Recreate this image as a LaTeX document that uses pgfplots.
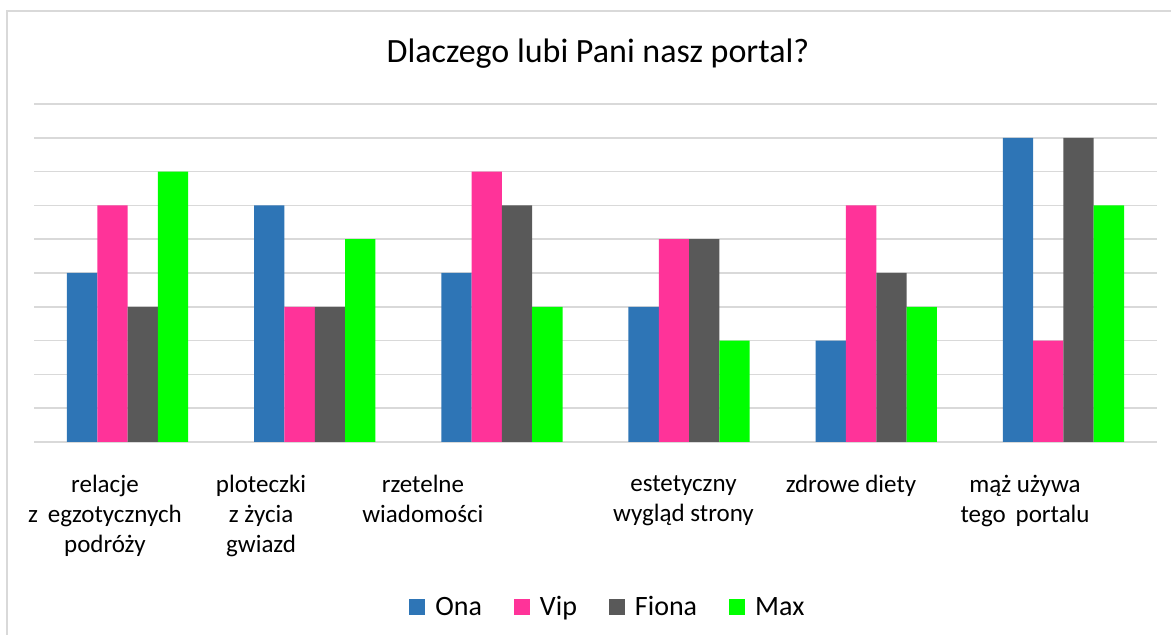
\documentclass[border=0pt]{standalone}
\usepackage{pgfplots}
\pgfplotsset{compat=1.18}
\usepackage{fontspec}
\setmainfont{Carlito}
\definecolor{ona}{HTML}{2E75B6}
\definecolor{vip}{HTML}{FF3399}
\definecolor{fiona}{HTML}{595959}
\definecolor{maxc}{HTML}{00FF00}
\definecolor{gridc}{HTML}{D9D9D9}
\begin{document}
\begin{tikzpicture}
\useasboundingbox (0,0) rectangle (1171bp,635bp);
\draw[gridc, line width=1.5bp] (7bp,0) -- (7bp,624bp) -- (1171bp,624bp);
\node[anchor=base, font=\fontsize{34bp}{40bp}\selectfont] at (598bp,572bp) {Dlaczego lubi Pani nasz portal?};
\begin{axis}[
  at={(34bp,193bp)}, anchor=south west,
  scale only axis, width=1123bp, height=338bp,
  ybar=0pt, bar width=30.3bp,
  xmin=-0.5, xmax=5.5, ymin=0, ymax=10,
  ytick={0,1,...,10}, yticklabel style={opacity=0},
  ymajorgrids, major grid style={draw=gridc, line width=1.5bp},
  axis line style={draw=none},
  major tick length=0pt,
  xtick={-0.121,0.713,1.578,2.970,3.865,4.795},
  xticklabels={{relacje\\z\, egzotycznych\\podróży},{ploteczki\\z życia\\gwiazd},{rzetelne\\wiadomości},{estetyczny\\wygląd strony},{zdrowe diety},{mąż używa\\tego\, portalu}},
  xticklabel style={align=center, anchor=north, yshift=-30bp, font=\fontsize{25bp}{30bp}\selectfont},
  legend columns=4,
  legend style={at={(0.511,-0.488)}, anchor=center, draw=none, font=\fontsize{28bp}{32bp}\selectfont,
    /tikz/every odd column/.append style={column sep=8bp},
    /tikz/every even column/.append style={column sep=30bp}},
  legend image code/.code={\fill[#1] (0bp,-8bp) rectangle (16bp,8bp);},
]
\addplot[fill=ona, draw=none] coordinates {(0,5) (1,7) (2,5) (3,4) (4,3) (5,9)};
\addplot[fill=vip, draw=none] coordinates {(0,7) (1,4) (2,8) (3,6) (4,7) (5,3)};
\addplot[fill=fiona, draw=none] coordinates {(0,4) (1,4) (2,7) (3,6) (4,5) (5,9)};
\addplot[fill=maxc, draw=none] coordinates {(0,8) (1,6) (2,4) (3,3) (4,4) (5,7)};
\legend{Ona,Vip,Fiona,Max}
\end{axis}
\end{tikzpicture}
\end{document}
